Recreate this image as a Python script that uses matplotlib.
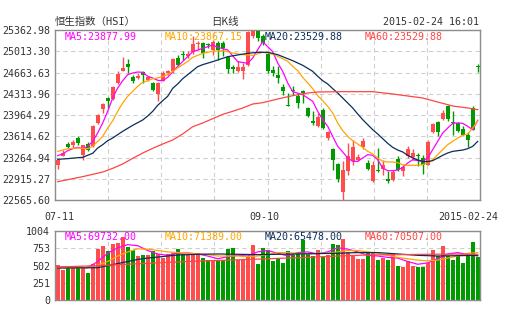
import numpy as np
import matplotlib.pyplot as plt
from matplotlib.transforms import blended_transform_factory

''' Hang Seng Index daily K-line, 07-11 .. 2015-02-24, with MA lines and volume. '''

opens = [23147, 23295, 23487, 23476, 23586, 23312, 23487, 23449, 23833, 24069,
         24239, 24233, 24491, 24694, 24804, 24590, 24573, 24672, 24546, 24491,
         24310, 24529, 24655, 24683, 24902, 24968, 24930, 25001, 25133, 25149,
         25133, 25039, 25149, 25149, 24913, 24749, 24694, 24683, 24793, 25259,
         25340, 25259, 24968, 24710, 24628, 24420, 24134, 24381, 24272, 24354,
         24080, 23860, 23778, 24052, 23586, 23410, 23158, 22697, 23048, 23213,
         23219, 23432, 23175, 22884, 23065, 23081, 22917, 22900, 23246, 23048,
         23284, 23268, 23301, 23257, 23147, 23685, 23843, 23904, 24118, 23843,
         23833, 23739, 23630, 24080, 24765]
highs = [23240, 23394, 23515, 23558, 23613, 23476, 23515, 23805, 23981, 24162,
         24255, 24436, 24683, 24913, 24886, 24628, 24655, 24683, 24601, 24507,
         24507, 24683, 24710, 24902, 24957, 25012, 25012, 25259, 25177, 25166,
         25149, 25204, 25177, 25177, 24930, 24793, 24847, 24820, 25341, 25362,
         25362, 25300, 24985, 24765, 24765, 24474, 24326, 24436, 24326, 24381,
         24091, 24025, 23997, 24080, 23707, 23421, 23175, 23202, 23504, 23558,
         23323, 23586, 23229, 23202, 23421, 23229, 23048, 23065, 23284, 23147,
         23449, 23410, 23339, 23301, 23558, 23833, 23860, 24052, 24134, 24025,
         23843, 23778, 23685, 24118, 24804]
lows = [23081, 23284, 23421, 23421, 23476, 23229, 23378, 23432, 23816, 23997,
        24080, 24217, 24474, 24683, 24655, 24491, 24562, 24491, 24529, 24354,
        24189, 24518, 24628, 24655, 24765, 24875, 24902, 24968, 25039, 24902,
        25067, 24957, 24875, 24930, 24655, 24655, 24672, 24562, 24765, 25231,
        25177, 25120, 24655, 24601, 24491, 24299, 24107, 24299, 24080, 24162,
        23926, 23805, 23761, 23739, 23558, 23065, 22862, 22566, 22983, 23147,
        23202, 23410, 23065, 22862, 23026, 22983, 22845, 22884, 23048, 22955,
        23257, 23229, 23120, 23000, 23136, 23668, 23613, 23887, 23871, 23641,
        23685, 23630, 23432, 23712, 24672]
closes = [23219, 23334, 23443, 23515, 23504, 23465, 23394, 23789, 23959, 24145,
          24200, 24420, 24645, 24738, 24749, 24529, 24601, 24628, 24584, 24381,
          24491, 24655, 24683, 24886, 24793, 24957, 24968, 25133, 25149, 24985,
          25111, 25166, 25039, 25067, 24727, 24727, 24749, 24749, 25330, 25341,
          25231, 25149, 24683, 24655, 24573, 24354, 24118, 24365, 24162, 24326,
          23942, 23833, 23926, 23750, 23685, 23229, 22917, 23065, 23284, 23432,
          23268, 23531, 23081, 23147, 23037, 23147, 22884, 23026, 23065, 23103,
          23410, 23339, 23290, 23147, 23520, 23816, 23685, 23997, 23904, 23833,
          23696, 23641, 23558, 23723, 24749]
volumes = [504, 441, 475, 475, 475, 466, 393, 524, 742, 781,
           708, 815, 829, 912, 766, 732, 635, 660, 650, 708,
           669, 611, 669, 684, 742, 669, 660, 660, 684, 611,
           587, 587, 587, 587, 747, 757, 587, 587, 630, 805,
           524, 757, 732, 572, 611, 538, 708, 660, 684, 878,
           669, 635, 732, 621, 660, 815, 805, 892, 698, 635,
           601, 601, 684, 684, 587, 611, 587, 684, 490, 475,
           572, 490, 475, 475, 538, 732, 635, 781, 635, 587,
           650, 538, 660, 844, 621]

# moving averages (candle position, value)
ma5_idx = list(range(0, 25)) + [26, 27, 29, 31, 32, 34, 36, 38, 39, 40, 41,
                                43, 44, 45, 46, 47, 49] + list(range(51, 85))
ma5 = [23295, 23323, 23377, 23410, 23432, 23410, 23449, 23531, 23668, 23833,
       24025, 24244, 24409, 24529, 24628, 24655, 24672, 24666, 24601, 24573,
       24535, 24529, 24584, 24677, 24765,
       24924, 25007, 25061, 25116, 25078, 25034, 24842, 24815, 24902, 25039, 25171,
       25007, 24820, 24683, 24491, 24348, 24299,
       24189, 24025, 23888, 23778, 23613, 23449, 23356, 23257, 23202, 23202,
       23257, 23312, 23301, 23229, 23092, 23048, 23048, 23059, 23103, 23175,
       23229, 23213, 23202, 23257, 23394, 23531, 23668, 23750, 23827, 23833,
       23827, 23778, 23723, 23878]
ma10_idx = [0, 2, 4, 6] + list(range(7, 21)) + [22, 24, 26, 27, 29, 31, 33, 35,
                                                 37, 39, 41, 43] + list(range(45, 60)) + list(range(61, 85))
ma10 = [23366, 23410, 23421, 23410,
        23449, 23531, 23613, 23750, 23871, 24025, 24162, 24272, 24354, 24436,
        24502, 24529, 24562, 24573,
        24628, 24738, 24847, 24913, 24979, 25012, 25023, 24985, 24957, 24946,
        24996, 24968,
        24891, 24847, 24765, 24694, 24584, 24491, 24398, 24282, 24200, 24107,
        23997, 23833, 23707, 23613, 23542,
        23432, 23366, 23323, 23257, 23202, 23191, 23191, 23180, 23147, 23136,
        23136, 23136, 23147, 23175, 23229, 23312, 23394, 23476, 23531, 23586,
        23630, 23652, 23750, 23867]
ma20_idx = [0, 2] + list(range(4, 30)) + [31, 34, 36, 38, 40, 42, 44, 45, 47, 49] + list(range(51, 85))
ma20 = [23235, 23246,
        23262, 23268, 23301, 23334, 23421, 23476, 23542, 23586, 23641, 23696,
        23745, 23794, 23838, 23882, 23948, 24025, 24124, 24200, 24272, 24403,
        24475, 24562, 24628, 24694, 24760, 24793,
        24842, 24924, 24952, 24979, 24996, 24996, 24957, 24924, 24858, 24782,
        24683, 24601, 24529, 24475, 24398, 24326, 24244, 24162, 24080, 23981,
        23888, 23805, 23723, 23652, 23575, 23498, 23432, 23388, 23356, 23301,
        23257, 23224, 23202, 23196, 23213, 23257, 23301, 23339, 23366, 23377,
        23388, 23410, 23449, 23530]
ma60_idx = [0, 5, 9, 11, 13, 15, 17, 19, 21, 23, 25, 27, 29, 31, 33, 35, 37, 39,
            41, 44, 47, 50, 52, 57, 63, 67, 70, 73, 76, 79, 82, 84]
ma60 = [22867, 22950, 23026, 23087, 23158, 23251, 23339, 23416, 23487, 23553,
        23652, 23772, 23833, 23904, 23975, 24025, 24080, 24145, 24167, 24228,
        24282, 24326, 24343, 24348, 24348, 24310, 24277, 24244, 24178, 24112,
        24080, 24052]

vma5_idx = [0, 4, 6] + list(range(8, 85, 2))
vma5 = [480, 475, 470, 560, 680, 760, 805, 790, 720, 670, 650, 680, 685,
        670, 640, 600, 630, 650, 640, 700, 720, 680, 640, 690, 700, 670, 700,
        760, 740, 700, 650, 640, 620, 610, 560, 520, 540, 600, 670, 690, 660, 640]
vma10_idx = [0, 6] + list(range(8, 85, 2))
vma10 = [470, 470, 510, 560, 640, 700, 745, 740, 720, 700, 690, 680,
         670, 660, 640, 640, 640, 630, 640, 660, 690, 690, 680, 670, 680, 680,
         700, 720, 720, 700, 680, 650, 620, 600, 580, 570, 580, 610, 640, 680, 690]
vma20_idx = [0, 8, 10, 12, 14, 16, 18, 20, 22, 24, 28, 32, 36, 40, 44, 48,
             52, 56, 60, 64, 68, 72, 76, 80, 84]
vma20 = [465, 470, 500, 530, 560, 590, 610, 625, 640, 655, 665, 670, 665,
         660, 665, 670, 675, 680, 690, 690, 670, 650, 640, 645, 650]
vma60_idx = [0, 8, 14, 20, 26, 32, 38, 44, 50, 56, 62, 68, 74, 80, 84]
vma60 = [480, 500, 520, 540, 560, 575, 590, 605, 620, 640, 655, 660, 665, 668, 665]

y_ticks = [22565.60, 22915.27, 23264.94, 23614.62, 23964.29,
           24313.96, 24663.63, 25013.30, 25362.98]
vol_ticks = [0, 251, 502, 753, 1004]
x_labels = ['07-11', '09-10', '2015-02-24']
x_label_idx = [0, 41, 84]
ma_names = ['MA5', 'MA10', 'MA20', 'MA60']
ma_last = ['23877.99', '23867.15', '23529.88', '23529.88']
vol_ma_last = ['69732.00', '71389.00', '65478.00', '70507.00']

RED = '#ff4d4d'
GREEN = '#009a00'
MA_COLORS = ['#ff00ff', '#ffa500', '#0b2d5b', '#ff4444']
TXT = '#333333'
MONO = 'DejaVu Sans Mono'
FS = 7.2

W, H = 505, 330
fig = plt.figure(figsize=(W / 100, H / 100), dpi=100)
ax = fig.add_axes([55 / W, 1 - 200 / H, 425 / W, 170 / H])
axv = fig.add_axes([55 / W, 1 - 300 / H, 425 / W, 69 / H])

xlim = (-0.54, 84.46)
grid_x = np.linspace(xlim[0], xlim[1], 9)[1:-1]

for a in (ax, axv):
    a.set_xlim(*xlim)
    a.set_xticks(grid_x)
    a.set_xticklabels([])
    a.set_axisbelow(True)
    a.grid(True, ls=(0, (4, 3)), color='#cfcfcf', lw=0.8)
    a.tick_params(length=0, pad=3.5, labelsize=FS, labelcolor=TXT)
    for s in a.spines.values():
        s.set_color('#8c8c8c')
        s.set_linewidth(1.0)

''' candles '''
idx = np.arange(len(closes))
o, hi, lo, c = (np.array(v, dtype=float) for v in (opens, highs, lows, closes))
colors = np.where(c >= o, RED, GREEN)
ax.vlines(idx, lo, hi, colors=colors, lw=1.0, zorder=2)
body = np.maximum(np.abs(c - o), 10)
ax.bar(idx, body, bottom=np.minimum(o, c), width=0.74, color=colors, lw=0, zorder=3)

for xs, ys, col in zip((ma5_idx, ma10_idx, ma20_idx, ma60_idx), (ma5, ma10, ma20, ma60), MA_COLORS):
    ax.plot(xs, ys, color=col, lw=0.9, zorder=4)

ax.set_ylim(y_ticks[0], y_ticks[-1])
ax.set_yticks(y_ticks)
ax.set_yticklabels(['%.2f' % v for v in y_ticks], family=MONO)

''' volume '''
axv.bar(idx, volumes, width=0.74, color=colors, lw=0, zorder=2)
for xs, ys, col in zip((vma5_idx, vma10_idx, vma20_idx, vma60_idx), (vma5, vma10, vma20, vma60), MA_COLORS):
    axv.plot(xs, ys, color=col, lw=0.9, zorder=4)
axv.set_ylim(0, vol_ticks[-1])
axv.set_yticks(vol_ticks)
axv.set_yticklabels([str(v) for v in vol_ticks], family=MONO)

''' texts '''
for k, (name, col) in enumerate(zip(ma_names, MA_COLORS)):
    fig.text((65 + 100 * k) / W, 1 - 37 / H, name + ':' + ma_last[k], color=col,
             fontsize=FS, family=MONO, va='center', zorder=6)
    fig.text((65 + 100 * k) / W, 1 - 237 / H, name + ':' + vol_ma_last[k], color=col,
             fontsize=FS, family=MONO, va='center', zorder=6)

fig.text(55 / W, 1 - 22 / H, '恒生指数（HSI）', color=TXT, fontsize=7.5,
         family=[MONO, 'Noto Sans CJK SC'], va='center')
fig.text(225 / W, 1 - 22 / H, '日K线', color=TXT, fontsize=7.5,
         family=['Noto Sans CJK SC', MONO], va='center', ha='center')
fig.text(479 / W, 1 - 22 / H, '2015-02-24 16:01', color=TXT, fontsize=FS,
         family=MONO, va='center', ha='right')

trans = blended_transform_factory(ax.transData, fig.transFigure)
x_label_ha = ['center', 'center', 'right']
x_label_dx = [0.3, 0.3, 4.1]
for lbl, i, ha, dx in zip(x_labels, x_label_idx, x_label_ha, x_label_dx):
    ax.text(i + dx, 1 - 217 / H, lbl, transform=trans, ha=ha, va='center',
            fontsize=FS, family=MONO, color=TXT, clip_on=False)

fig.savefig('out.png', dpi=100)
